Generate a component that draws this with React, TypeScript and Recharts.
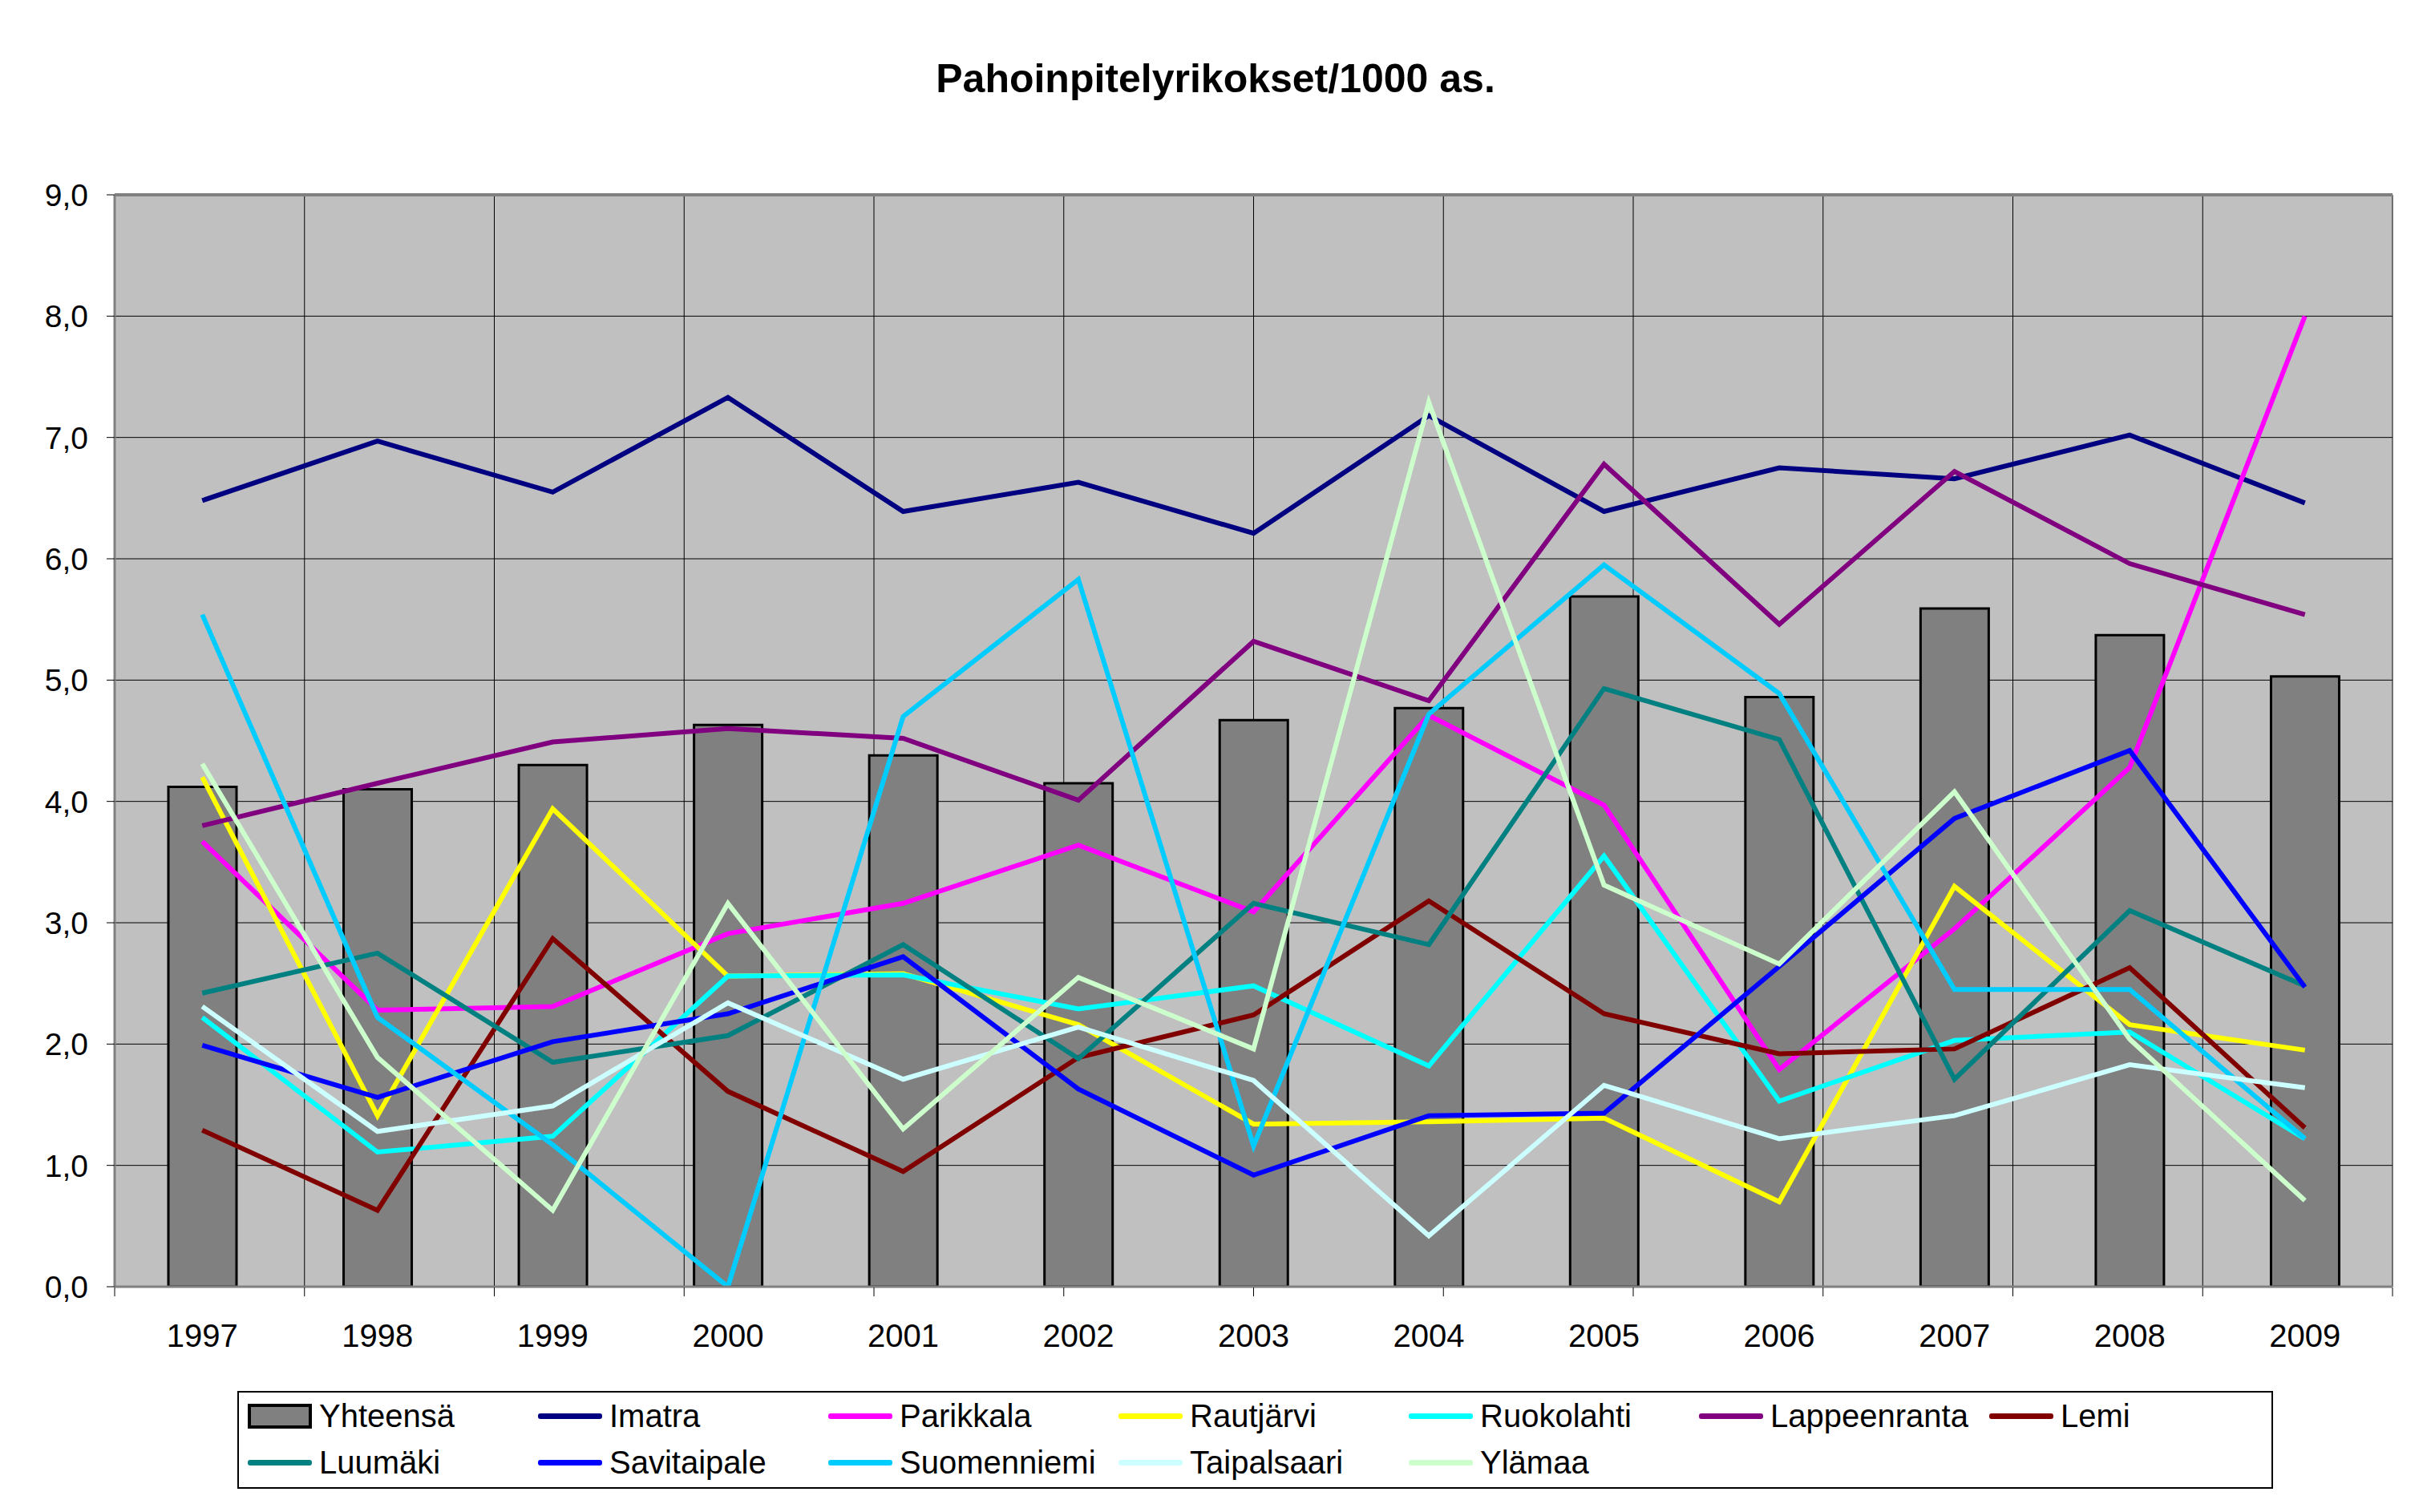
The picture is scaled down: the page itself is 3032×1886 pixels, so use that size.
import React from "react";
import {
	ComposedChart,
	Bar,
	Line,
	XAxis,
	YAxis,
	CartesianGrid,
	ReferenceLine,
} from "recharts";

const FONT = "'Liberation Sans', Arial, sans-serif";

// vuodet
const years = ["1997", "1998", "1999", "2000", "2001", "2002", "2003", "2004", "2005", "2006", "2007", "2008", "2009"];

// rikokset / 1000 asukasta
const yhteensa = [4.12, 4.1, 4.3, 4.63, 4.38, 4.15, 4.67, 4.77, 5.69, 4.86, 5.59, 5.37, 5.03];
const imatra = [6.48, 6.97, 6.55, 7.33, 6.39, 6.63, 6.21, 7.18, 6.39, 6.75, 6.66, 7.02, 6.46];
const parikkala = [3.67, 2.28, 2.31, 2.91, 3.16, 3.64, 3.09, 4.71, 3.97, 1.79, 2.95, 4.28, 8.0];
const rautjarvi = [4.2, 1.41, 3.94, 2.56, 2.58, 2.16, 1.34, 1.36, 1.39, 0.7, 3.3, 2.16, 1.95];
const ruokolahti = [2.22, 1.11, 1.24, 2.56, 2.57, 2.29, 2.48, 1.82, 3.55, 1.53, 2.03, 2.1, 1.22];
const lappeenranta = [3.8, 4.15, 4.49, 4.6, 4.52, 4.01, 5.32, 4.83, 6.78, 5.46, 6.72, 5.96, 5.54];
const lemi = [1.29, 0.63, 2.87, 1.61, 0.95, 1.89, 2.24, 3.18, 2.25, 1.92, 1.96, 2.63, 1.31];
const luumaki = [2.42, 2.75, 1.85, 2.07, 2.82, 1.88, 3.16, 2.82, 4.93, 4.51, 1.71, 3.1, 2.48];
const savitaipale = [1.99, 1.56, 2.02, 2.25, 2.72, 1.63, 0.92, 1.41, 1.43, 2.64, 3.86, 4.42, 2.47];
const suomenniemi = [5.54, 2.22, 1.17, 0.0, 4.7, 5.83, 1.16, 4.72, 5.95, 4.89, 2.45, 2.45, 1.22];
const taipalsaari = [2.31, 1.28, 1.49, 2.34, 1.71, 2.14, 1.7, 0.42, 1.66, 1.22, 1.41, 1.83, 1.64];
const ylamaa = [4.31, 1.89, 0.63, 3.16, 1.3, 2.55, 1.96, 7.29, 3.31, 2.66, 4.08, 2.04, 0.71];

const yTicks = [0, 1, 2, 3, 4, 5, 6, 7, 8, 9];
const edgeTicks = [0, 1, 2, 3, 4, 5, 6, 7, 8, 9, 10, 11, 12, 13];

const lineSeries = [
	{ key: "Imatra", values: imatra, color: "#000080" },
	{ key: "Parikkala", values: parikkala, color: "#FF00FF" },
	{ key: "Rautjärvi", values: rautjarvi, color: "#FFFF00" },
	{ key: "Ruokolahti", values: ruokolahti, color: "#00FFFF" },
	{ key: "Lappeenranta", values: lappeenranta, color: "#800080" },
	{ key: "Lemi", values: lemi, color: "#800000" },
	{ key: "Luumäki", values: luumaki, color: "#008080" },
	{ key: "Savitaipale", values: savitaipale, color: "#0000FF" },
	{ key: "Suomenniemi", values: suomenniemi, color: "#00CCFF" },
	{ key: "Taipalsaari", values: taipalsaari, color: "#CCFFFF" },
	{ key: "Ylämaa", values: ylamaa, color: "#CCFFCC" },
];

const data = years.map((y, i) => {
	const row: Record<string, string | number> = { year: y, Yhteensä: yhteensa[i] };
	lineSeries.forEach((s) => {
		row[s.key] = s.values[i];
	});
	return row;
});

// legendin järjestys: 7 saraketta, 2 riviä
const legendRows = [
	["Yhteensä", "Imatra", "Parikkala", "Rautjärvi", "Ruokolahti", "Lappeenranta", "Lemi"],
	["Luumäki", "Savitaipale", "Suomenniemi", "Taipalsaari", "Ylämaa"],
];

function LegendBox() {
	return (
		<div
			style={{
				position: "absolute",
				left: 296,
				top: 1735,
				width: 2539,
				height: 122,
				border: "2px solid #000",
				boxSizing: "border-box",
				fontFamily: FONT,
				fontSize: 40,
				color: "#000",
			}}
		>
			{legendRows.map((row, r) => (
				<div
					key={r}
					style={{
						position: "absolute",
						left: 11,
						top: r === 0 ? 4 : 62,
						height: 50,
						display: "flex",
						alignItems: "center",
					}}
				>
					{row.map((name) => {
						const s = lineSeries.find((l) => l.key === name);
						return (
							<div key={name} style={{ width: 362, display: "flex", alignItems: "center" }}>
								{s ? (
									<span
										style={{
											width: 80,
											height: 7,
											borderRadius: 3,
											background: s.color,
											display: "inline-block",
										}}
									/>
								) : (
									<span
										style={{
											width: 80,
											height: 31,
											background: "#808080",
											border: "4px solid #000",
											boxSizing: "border-box",
											display: "inline-block",
										}}
									/>
								)}
								<span style={{ marginLeft: 9, whiteSpace: "nowrap" }}>{name}</span>
							</div>
						);
					})}
				</div>
			))}
		</div>
	);
}

const NoTick = () => <g />;

export default function App() {
	return (
		<div
			style={{
				position: "absolute",
				left: 0,
				top: 0,
				width: 3032,
				height: 1886,
				background: "#fff",
				fontFamily: FONT,
			}}
		>
			<div
				style={{
					position: "absolute",
					left: 0,
					top: 73,
					width: 3032,
					textAlign: "center",
					fontSize: 50,
					lineHeight: "50px",
					fontWeight: "bold",
				}}
			>
				Pahoinpitelyrikokset/1000 as.
			</div>
			<ComposedChart
				width={3032}
				height={1886}
				data={data}
				margin={{ top: 243, right: 48, left: 23, bottom: 279 }}
			>
				<CartesianGrid
					xAxisId="edges"
					fill="#C0C0C0"
					fillOpacity={1}
					stroke="#000"
					strokeWidth={1}
					vertical
					horizontal
				/>
				<XAxis
					xAxisId="cat"
					dataKey="year"
					tickLine={false}
					tickSize={11}
					tickMargin={36}
					axisLine={{ stroke: "#808080", strokeWidth: 3 }}
					tick={{ fill: "#000", fontSize: 40, fontFamily: FONT }}
					height={1}
					interval={0}
				/>
				<XAxis
					xAxisId="edges"
					type="number"
					domain={[0, 13]}
					ticks={edgeTicks}
					tick={NoTick}
					tickSize={11}
					tickLine={{ stroke: "#000" }}
					axisLine={false}
					height={1}
				/>
				<YAxis
					domain={[0, 9]}
					ticks={yTicks}
					width={120}
					tickSize={10}
					tickMargin={23}
					tickFormatter={(v: number) => v.toFixed(1).replace(".", ",")}
					tickLine={{ stroke: "#000" }}
					axisLine={{ stroke: "#808080", strokeWidth: 3 }}
					tick={{ fill: "#000", fontSize: 39, fontFamily: FONT }}
					allowDataOverflow
				/>
				<ReferenceLine xAxisId="edges" y={9} stroke="#808080" strokeWidth={4} />
				<ReferenceLine xAxisId="edges" x={13} stroke="#808080" strokeWidth={4} />
				<Bar
					xAxisId="cat"
					dataKey="Yhteensä"
					fill="#808080"
					stroke="#000"
					strokeWidth={3}
					barSize={85}
					isAnimationActive={false}
				/>
				{lineSeries.map((s) => (
					<Line
						key={s.key}
						xAxisId="cat"
						type="linear"
						dataKey={s.key}
						stroke={s.color}
						strokeWidth={6}
						dot={false}
						activeDot={false}
						isAnimationActive={false}
					/>
				))}
			</ComposedChart>
			<LegendBox />
		</div>
	);
}
